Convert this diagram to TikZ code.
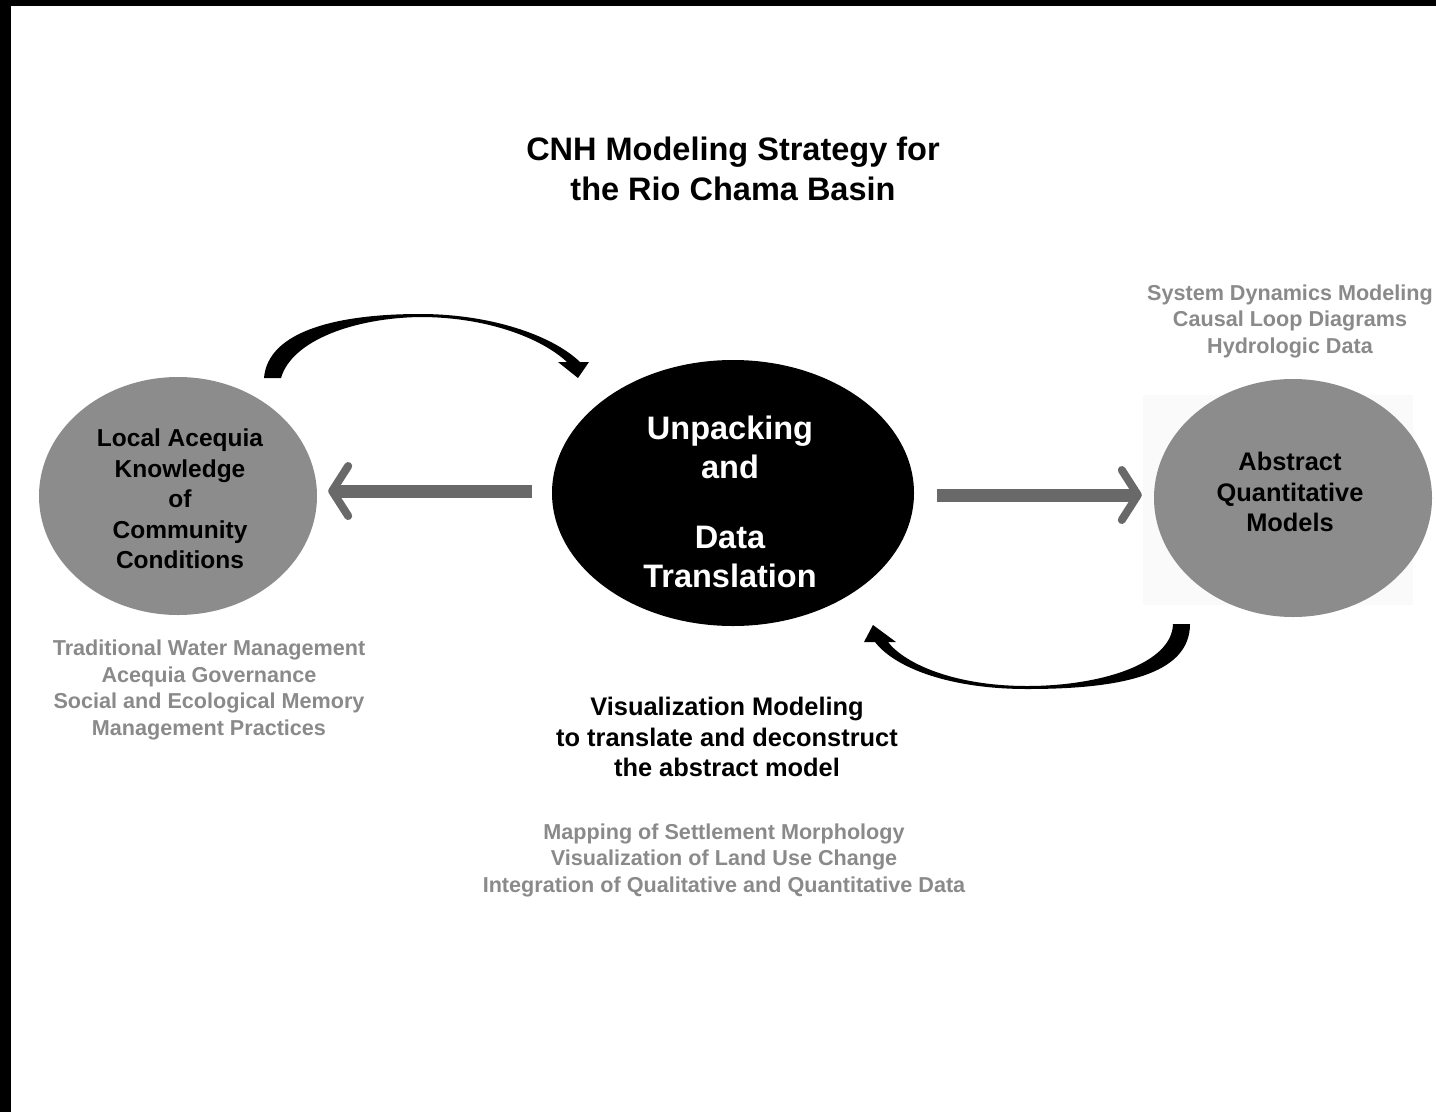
\documentclass[tikz,border=0pt]{standalone}
\usepackage{fontspec}
\setmainfont{Liberation Sans}
\usetikzlibrary{shapes.geometric,arrows.meta}

\definecolor{ovalgray}{HTML}{8C8C8C}
\definecolor{notegray}{HTML}{8A8A8A}
\definecolor{arrowgray}{HTML}{696969}

\tikzset{
  oval/.style={ellipse, inner sep=0pt, minimum width=278pt, minimum height=238pt, fill=ovalgray},
  ovaltext/.style={align=center, font=\fontsize{24.5}{30.5}\selectfont\bfseries},
  note/.style={align=center, text=notegray, font=\fontsize{21.6}{26.5}\selectfont\bfseries},
  flow/.style={draw=arrowgray, line width=13pt, -{Straight Barb[length=16pt,width=50pt,line width=8pt,round]}},
}

\begin{document}
\begin{tikzpicture}[x=1pt,y=-1pt]
\useasboundingbox (0,0) rectangle (1436,1112);
% frame edges
\fill[black] (0,0) rectangle (1436,6);
\fill[black] (0,0) rectangle (11,1112);

\node[align=center, font=\fontsize{32.5}{40}\selectfont\bfseries] (title) at (733,169) {CNH Modeling Strategy for\\the Rio Chama Basin};

% the three ovals
\node[oval] (acequia) at (178,496) {};
\node[ovaltext] (acequiatext) at (180,499) {Local Acequia\\Knowledge\\of\\Community\\Conditions};

\node[oval, fill=black, minimum width=362pt, minimum height=266pt] (unpack) at (733,493) {};
\node[align=center, text=white, font=\fontsize{32.5}{39}\selectfont\bfseries] (unpacktext) at (730,502) {Unpacking\\and\\[31pt]Data\\Translation};

\fill[black!2] (1143,395) rectangle (1413,605);
\node[oval] (abstract) at (1293,498) {};
\node[ovaltext, font=\fontsize{25.4}{30.5}\selectfont\bfseries] (abstracttext) at (1290,492) {Abstract\\Quantitative\\Models};

% notes
\node[note] (sdm) at (1290,321) {System Dynamics Modeling\\Causal Loop Diagrams\\Hydrologic Data};
\node[note] (trad) at (209,690) {Traditional Water Management\\Acequia Governance\\Social and Ecological Memory\\Management Practices};
\node[align=center, font=\fontsize{25.4}{30.5}\selectfont\bfseries] (vismod) at (727,737) {Visualization Modeling\\to translate and deconstruct\\the abstract model};
\node[note] (mapping) at (724,860) {Mapping of Settlement Morphology\\Visualization of Land Use Change\\Integration of Qualitative and Quantitative Data};

% straight arrows
\draw[flow, shorten <=20pt, shorten >=11pt] ([yshift=2pt]unpack.west) -- ([yshift=2pt]unpack.west -| acequia.east);
\draw[flow, shorten <=23pt, shorten >=12pt] ([yshift=-2pt]unpack.east) -- ([yshift=-2pt]unpack.east -| abstract.west);

% curved brush arrows
\fill[black] (264,378) .. controls (268,330) and (340,314) .. (420,314)
  .. controls (490,314) and (552,335) .. (580,362) -- (589,362) -- (578,378) -- (558,362) -- (567,362)
  .. controls (540,337) and (485,317) .. (420,317)
  .. controls (355,318) and (292,340) .. (281,378) -- cycle;
\fill[black] (1190,624) .. controls (1190,675) and (1120,689) .. (1027,689)
  .. controls (950,689) and (895,668) .. (875,642) -- (864,642) -- (873,625) -- (896,642) -- (888,642)
  .. controls (905,664) and (955,686) .. (1027,686)
  .. controls (1100,686) and (1172,664) .. (1173,624) -- cycle;
\end{tikzpicture}
\end{document}
